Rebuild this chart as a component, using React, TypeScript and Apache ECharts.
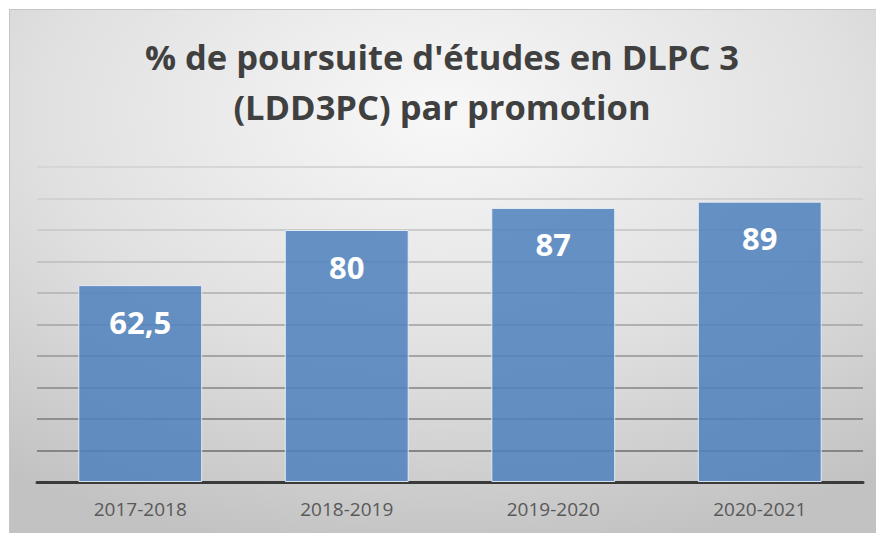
import React, { useEffect, useRef } from "react";
import * as echarts from "echarts";

const titleText = "% de poursuite d'études en DLPC 3\n(LDD3PC) par promotion";
const categories = ["2017-2018", "2018-2019", "2019-2020", "2020-2021"];
const values = [62.5, 80, 87, 89];
const valueLabels = ["62,5", "80", "87", "89"];
const gridColors = ["#7a7a7a", "#858585", "#8f8f8f", "#999999", "#a5a5a5", "#b0b0b0", "#bbbbbb", "#c4c4c4", "#cccccc", "#d2d2d2", "#d6d6d6"];

export default function App() {
  const ref = useRef<HTMLDivElement>(null);
  useEffect(() => {
    if (!ref.current) return;
    const chart = echarts.init(ref.current, null, { renderer: "svg" });
    chart.setOption({
      animation: false,
      backgroundColor: {
        type: "radial",
        x: 0.5,
        y: 0.2,
        r: 0.85,
        colorStops: [
          { offset: 0, color: "#f8f8f8" },
          { offset: 0.55, color: "#e0e0e0" },
          { offset: 1, color: "#c2c2c2" },
        ],
      },
      title: {
        text: titleText,
        left: 427,
        textAlign: "center",
        top: 16,
        textStyle: {
          fontFamily: "Open Sans",
          fontWeight: 700,
          fontSize: 34.5,
          lineHeight: 50,
          color: "#404040",
        },
      },
      grid: { left: 27, right: 13, top: 157, bottom: 51 },
      xAxis: {
        type: "category",
        data: categories,
        axisLine: { lineStyle: { color: "#3a3a3a", width: 3 } },
        axisTick: { show: false },
        axisLabel: {
          fontFamily: "Open Sans",
          fontSize: 19,
          color: "#595959",
          margin: 17,
        },
      },
      yAxis: {
        type: "value",
        min: 0,
        max: 100,
        interval: 10,
        axisLabel: { show: false },
        axisLine: { show: false },
        axisTick: { show: false },
        splitLine: { lineStyle: { color: gridColors, width: 2 } },
      },
      series: [
        {
          type: "bar",
          data: values,
          barCategoryGap: "40%",
          itemStyle: {
            color: "rgba(79,129,189,0.86)",
            borderColor: "rgba(235,240,248,0.9)",
            borderWidth: 1,
          },
          label: {
            show: true,
            position: "insideTop",
            distance: 21,
            formatter: (p: any) => valueLabels[p.dataIndex],
            fontFamily: "Open Sans",
            fontWeight: 700,
            fontSize: 31,
            color: "#ffffff",
          },
        },
      ],
    });
    return () => chart.dispose();
  }, []);
  return (
    <div style={{ position: "fixed", left: 0, top: 0, width: 876, height: 533, background: "#ffffff" }}>
      <div
        ref={ref}
        style={{
          position: "absolute",
          left: 9,
          top: 9,
          width: 867,
          height: 524,
          borderTop: "1px solid #c6c6c6",
          borderLeft: "1px solid #c6c6c6",
          boxSizing: "border-box",
        }}
      />
    </div>
  );
}
